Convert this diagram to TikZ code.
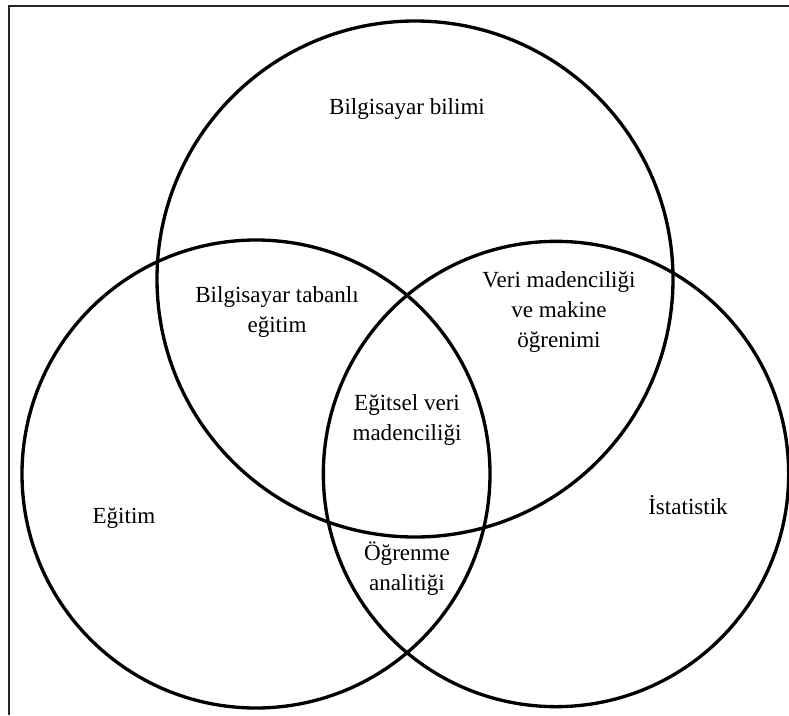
\documentclass[tikz,border=0pt]{standalone}
\usepackage{fontspec}
\setmainfont{Liberation Serif}
\begin{document}
\begin{tikzpicture}[x=0.75pt, y=-0.75pt,
  set/.style={draw=black, line width=2.5pt, circle, inner sep=0pt, fill=none},
  lbl/.style={align=center, inner sep=0pt, font=\fontsize{17.3}{22.5}\selectfont},
  frame/.style={draw=black!85, line width=1.8pt}
]
  \useasboundingbox (0,0) rectangle (789,715);

  % outer frame (only its left and top sides fall inside the page)
  \coordinate (fbl) at (9,715);
  \coordinate (ftl) at (9,6);
  \coordinate (ftr) at (789,6);
  \draw[frame] (fbl) -- (ftl) -- (ftr);

  % the three sets
  \node[set, minimum size=387pt] (cs)  at (415,279) {};
  \node[set, minimum size=351pt] (edu) at (256,474) {};
  \node[set, minimum size=349pt] (st)  at (556,474) {};

  % region labels
  \node[lbl] (tcs)  at (407,109) {Bilgisayar bilimi};
  \node[lbl] (tcbe) at (277,312) {Bilgisayar tabanlı\\eğitim};
  \node[lbl] (tdm)  at (559,312) {Veri madenciliği\\ve makine\\öğrenimi};
  \node[lbl] (tedm) at (407,420) {Eğitsel veri\\madenciliği};
  \node[lbl] (tedu) at (124,518) {Eğitim};
  \node[lbl] (tst)  at (688,505) {İstatistik};
  \node[lbl] (tla)  at (407,569) {Öğrenme\\analitiği};
\end{tikzpicture}
\end{document}
